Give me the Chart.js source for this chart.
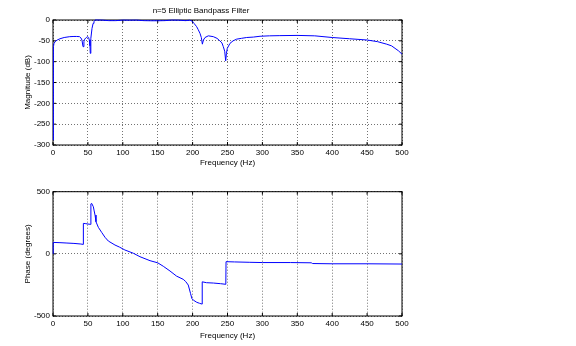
<!DOCTYPE html>
<html lang="en">
<head>
  <meta charset="UTF-8">
  <title>n=5 Elliptic Bandpass Filter</title>
  <script src="https://cdn.jsdelivr.net/npm/chart.js"></script>
  <style>
    body { margin: 0; background: #fff; }
    .wrap { position: absolute; left: 0; width: 576px; height: 173px; }
  </style>
</head>
<body>
  <div class="wrap" style="top:0"><canvas id="magChart"></canvas></div>
  <div class="wrap" style="top:173px"><canvas id="phaseChart"></canvas></div>

  <script>
    // magnitude response
    const magFreq = [0, 0.6, 1.5, 3, 6, 10, 16, 24, 30, 34, 38, 40, 41.5, 43, 44.3, 45.4, 47.7, 50, 51, 52, 53, 53.4,
      54, 54.4, 55.9, 57.5, 58.7, 60.6, 70, 80, 90, 100, 110, 120, 130, 140, 150, 160, 170, 180, 190, 196, 198.7,
      202, 205.8, 208, 210.6, 212.5, 214, 215.5, 217.8, 222.5, 229.7, 235, 239, 242, 244, 246, 247.4, 248.5,
      249.7, 253.6, 258, 263, 270, 277.5, 287, 296.6, 310, 325, 350, 375, 400, 425, 450, 465, 478, 485, 490, 495, 500];
    const magDb = [-288, -64, -56, -52, -48, -45, -42, -40, -39.5, -39.5, -40, -43, -48, -64, -52, -46, -42, -40, -42, -48, -62, -80,
      -55, -44, -20, -8, -3, 0, -0.3, -1.5, -1.5, -0.3, -0.5, -0.3, -1.5, -1.8, -1.8, -1.5, -0.3, -0.5, -1.5, -0.5, -2,
      -8, -16, -23, -32, -42, -58, -48, -42, -38, -40, -44, -50, -55, -64, -75, -98, -80,
      -68, -56, -50, -46, -44, -42, -41, -39, -38, -37.5, -37, -38, -42, -45, -48, -52, -58, -62, -68, -74, -82];

    // phase response
    const phaseFreq = [0, 0.3, 10, 20, 30, 40, 43.2, 43.5, 47, 50, 53, 54, 54.3, 55.4, 57.8, 59, 60.2, 61.6, 65, 69.7, 74.5,
      79.3, 88.8, 95, 103, 115, 124.6, 139, 150, 158, 167.6, 177, 186.6, 190, 193.8, 197, 199, 201, 206, 210, 213.5,
      213.8, 220, 230, 240, 247.6, 247.9, 260, 282, 300, 340, 370, 372, 400, 450, 500];
    const phaseDeg = [0, 92, 90, 87, 84, 79, 76, 245, 243, 240, 238, 237, 402, 406, 379, 345, 312, 258, 213, 173, 133,
      103, 71, 55, 31, 5, -23, -55, -72, -100, -138, -179, -205, -222, -251, -318, -360, -372, -390, -398, -404,
      -225, -232, -235, -240, -245, -63, -65, -68, -70, -70, -72, -78, -80, -80, -82];

    const freqTicks = [0, 50, 100, 150, 200, 250, 300, 350, 400, 450, 500];

    Chart.defaults.color = '#000';
    Chart.defaults.font = { family: 'Helvetica, Arial, "Liberation Sans", sans-serif', size: 8 };

    // matlab style box with inward ticks, drawn under the trace
    const boxPlugin = {
      id: 'box',
      beforeDatasetsDraw(chart) {
        const { ctx, chartArea: a, scales } = chart;
        ctx.save();
        ctx.strokeStyle = '#000';
        ctx.lineWidth = 1;
        ctx.strokeRect(a.left, a.top, a.right - a.left, a.bottom - a.top);
        ctx.beginPath();
        scales.x.ticks.forEach(t => {
          const px = scales.x.getPixelForValue(t.value);
          ctx.moveTo(px, a.bottom); ctx.lineTo(px, a.bottom - 3);
          ctx.moveTo(px, a.top); ctx.lineTo(px, a.top + 3);
        });
        scales.y.ticks.forEach(t => {
          const py = scales.y.getPixelForValue(t.value);
          ctx.moveTo(a.left, py); ctx.lineTo(a.left + 3, py);
          ctx.moveTo(a.right, py); ctx.lineTo(a.right - 3, py);
        });
        ctx.stroke();
        ctx.restore();
      }
    };

    function makeChart(id, xs, ys, yOpts, opts) {
      const pts = xs.map((f, i) => ({ x: f, y: ys[i] }));
      return new Chart(document.getElementById(id), {
        type: 'line',
        data: {
          datasets: [{
            data: pts,
            borderColor: 'rgb(0,0,255)',
            borderWidth: 1,
            pointRadius: 0,
            tension: 0,
            clip: 2
          }]
        },
        options: {
          responsive: true,
          maintainAspectRatio: false,
          animation: false,
          layout: { padding: { left: 0, right: 174, top: opts.padTop, bottom: 0 } },
          plugins: {
            legend: { display: false },
            tooltip: { enabled: false },
            title: opts.title ? {
              display: true,
              text: opts.title,
              font: { size: 8, weight: 'normal' },
              padding: { top: 6, bottom: 4.4 }
            } : { display: false }
          },
          scales: {
            x: {
              type: 'linear',
              min: 0, max: 500,
              afterBuildTicks: s => { s.ticks = freqTicks.map(v => ({ value: v })); },
              ticks: { padding: 3, maxRotation: 0 },
              grid: { color: 'rgba(0,0,0,0.55)', drawTicks: false },
              border: { display: false, dash: [1, 2] },
              title: { display: true, text: 'Frequency (Hz)', padding: { top: 0, bottom: 5 } },
              afterFit: s => { s.height = opts.xHeight; }
            },
            y: {
              min: yOpts.min, max: yOpts.max,
              ticks: { stepSize: yOpts.step, padding: 3 },
              grid: { color: 'rgba(0,0,0,0.55)', drawTicks: false },
              border: { display: false, dash: [1, 2] },
              title: { display: true, text: yOpts.label, padding: { top: 23, bottom: 0 } },
              afterFit: s => { s.width = 53; }
            }
          }
        },
        plugins: [boxPlugin]
      });
    }

    makeChart('magChart', magFreq, magDb,
      { min: -300, max: 0, step: 50, label: 'Magnitude (dB)' },
      { title: 'n=5 Elliptic Bandpass Filter', padTop: 0, xHeight: 28 });

    makeChart('phaseChart', phaseFreq, phaseDeg,
      { min: -500, max: 500, step: 500, label: 'Phase (degrees)' },
      { padTop: 18.7, xHeight: 30 });
  </script>
</body>
</html>
